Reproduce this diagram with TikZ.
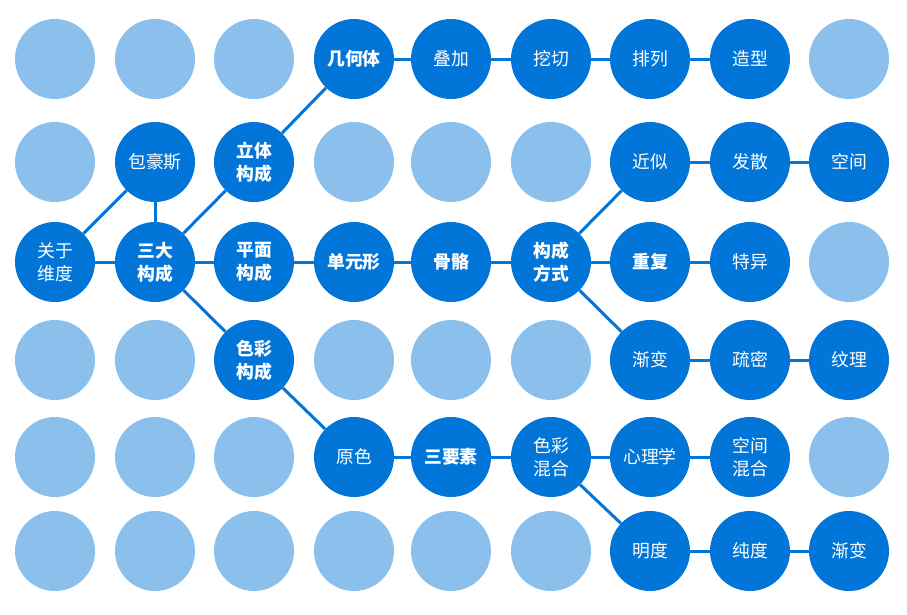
\documentclass[tikz,border=0pt]{standalone}
\usepackage{fontspec}
\setmainfont{Noto Sans CJK SC}
\definecolor{dk}{RGB}{2,118,216}
\definecolor{lt}{RGB}{139,192,236}
\begin{document}
\begin{tikzpicture}[x=1pt,y=-1pt,
  dot/.style={circle,minimum size=80pt,inner sep=0pt,fill=lt},
  act/.style={circle,minimum size=80pt,inner sep=0pt,fill=dk,text=white,align=center,font=\fontsize{17.8}{23}\selectfont},
  key/.style={act,font=\fontsize{17.8}{23}\selectfont\bfseries},
  link/.style={draw=dk,line width=3pt}]
\useasboundingbox (0,0) rectangle (907,614);
% row 1
\node[dot] (a1) at (55,59) {};
\node[dot] (b1) at (155,59) {};
\node[dot] (c1) at (254,59) {};
\node[key] (d1) at (354,59) {几何体};
\node[act] (e1) at (451,59) {叠加};
\node[act] (f1) at (551,59) {挖切};
\node[act] (g1) at (650,59) {排列};
\node[act] (h1) at (750,59) {造型};
\node[dot] (i1) at (849,59) {};
% row 2
\node[dot] (a2) at (55,162) {};
\node[act] (b2) at (155,162) {包豪斯};
\node[key] (c2) at (254,162) {立体\\构成};
\node[dot] (d2) at (354,162) {};
\node[dot] (e2) at (451,162) {};
\node[dot] (f2) at (551,162) {};
\node[act] (g2) at (650,162) {近似};
\node[act] (h2) at (750,162) {发散};
\node[act] (i2) at (849,162) {空间};
% row 3
\node[act] (a3) at (55,262) {关于\\维度};
\node[key] (b3) at (155,262) {三大\\构成};
\node[key] (c3) at (254,262) {平面\\构成};
\node[key] (d3) at (354,262) {单元形};
\node[key] (e3) at (451,262) {骨骼};
\node[key] (f3) at (551,262) {构成\\方式};
\node[key] (g3) at (650,262) {重复};
\node[act] (h3) at (750,262) {特异};
\node[dot] (i3) at (849,262) {};
% row 4
\node[dot] (a4) at (55,360) {};
\node[dot] (b4) at (155,360) {};
\node[key] (c4) at (254,360) {色彩\\构成};
\node[dot] (d4) at (354,360) {};
\node[dot] (e4) at (451,360) {};
\node[dot] (f4) at (551,360) {};
\node[act] (g4) at (650,360) {渐变};
\node[act] (h4) at (750,360) {疏密};
\node[act] (i4) at (849,360) {纹理};
% row 5
\node[dot] (a5) at (55,457) {};
\node[dot] (b5) at (155,457) {};
\node[dot] (c5) at (254,457) {};
\node[act] (d5) at (354,457) {原色};
\node[key] (e5) at (451,457) {三要素};
\node[act] (f5) at (551,457) {色彩\\混合};
\node[act] (g5) at (650,457) {心理学};
\node[act] (h5) at (750,457) {空间\\混合};
\node[dot] (i5) at (849,457) {};
% row 6
\node[dot] (a6) at (55,551) {};
\node[dot] (b6) at (155,551) {};
\node[dot] (c6) at (254,551) {};
\node[dot] (d6) at (354,551) {};
\node[dot] (e6) at (451,551) {};
\node[dot] (f6) at (551,551) {};
\node[act] (g6) at (650,551) {明度};
\node[act] (h6) at (750,551) {纯度};
\node[act] (i6) at (849,551) {渐变};
% connectors
\draw[link] (a3) -- (b3);
\draw[link] (a3) -- (b2);
\draw[link] (b2) -- (b3);
\draw[link] (b3) -- (c2);
\draw[link] (b3) -- (c3);
\draw[link] (b3) -- (c4);
\draw[link] (c2) -- (d1);
\draw[link] (d1) -- (e1);
\draw[link] (e1) -- (f1);
\draw[link] (f1) -- (g1);
\draw[link] (g1) -- (h1);
\draw[link] (c3) -- (d3);
\draw[link] (d3) -- (e3);
\draw[link] (e3) -- (f3);
\draw[link] (f3) -- (g3);
\draw[link] (g3) -- (h3);
\draw[link] (f3) -- (g2);
\draw[link] (g2) -- (h2);
\draw[link] (h2) -- (i2);
\draw[link] (f3) -- (g4);
\draw[link] (g4) -- (h4);
\draw[link] (h4) -- (i4);
\draw[link] (c4) -- (d5);
\draw[link] (d5) -- (e5);
\draw[link] (e5) -- (f5);
\draw[link] (f5) -- (g5);
\draw[link] (g5) -- (h5);
\draw[link] (f5) -- (g6);
\draw[link] (g6) -- (h6);
\draw[link] (h6) -- (i6);
\end{tikzpicture}
\end{document}
